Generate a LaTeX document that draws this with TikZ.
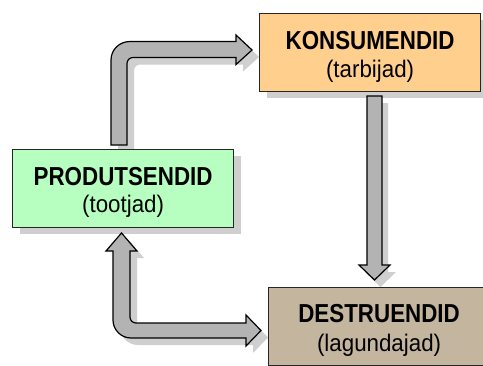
\documentclass[tikz,border=0pt]{standalone}
\usepackage{fontspec}
\usetikzlibrary{calc}
\setmainfont{Liberation Sans}
\newfontfamily\titlefont{Liberation Sans}[FakeStretch=0.86]
\newfontfamily\subfont{Liberation Sans}[FakeStretch=0.93]
\definecolor{konsfill}{HTML}{FFCF8E}
\definecolor{prodfill}{HTML}{B6FFC0}
\definecolor{destfill}{HTML}{C4B59E}
\definecolor{arrfill}{HTML}{B3B3B3}
\definecolor{shadowc}{HTML}{CFCFCF}
\definecolor{edgec}{HTML}{262626}
\newcommand\pathA{(111,145) -- (111,60) .. controls (111,49.5) and (119.5,41.5) .. (130,41.5) -- (236,41.5) -- (236,35) -- (252,50) -- (236,64.5) -- (236,57.5) -- (133,57.5) .. controls (129.7,57.5) and (127,60.2) .. (127,63.5) -- (127,145) -- cycle}
\newcommand\pathB{(367,96) -- (367,265) -- (359,265) -- (374.5,280) -- (390,265) -- (382,265) -- (382,96) -- cycle}
\newcommand\pathC{(121.5,233) -- (137,251) -- (130,251) -- (130,317) .. controls (130,320.3) and (132.7,323) .. (136,323) -- (246,323) -- (246,315) -- (261,330.5) -- (246,346) -- (246,338) -- (131,338) .. controls (121.1,338) and (113,329.9) .. (113,320) -- (113,251) -- (106,251) -- cycle}
\tikzset{
  box/.style={draw=edgec, line width=1.2pt, minimum width=221pt, minimum height=78pt, inner sep=0pt, anchor=north west},
  boxshadow/.style={fill=shadowc, draw=none, minimum width=221pt, minimum height=78pt, inner sep=0pt, anchor=north west},
  blockarrow/.style={fill=arrfill, draw=black, line width=1.2pt, line join=miter},
  arrshadow/.style={fill=shadowc, draw=none},
  title/.style={font=\titlefont\bfseries\fontsize{26}{28}\selectfont, anchor=base, inner sep=0pt},
  sub/.style={font=\subfont\fontsize{24}{28}\selectfont, anchor=base, inner sep=0pt}
}
\begin{document}
\begin{tikzpicture}[x=1pt, y=-1pt]
\clip (0,0) rectangle (483,365);
\fill[white] (0,0) rectangle (483,365);
% shadows
\node[boxshadow] (konsS) at (267,20) {};
\node[boxshadow] (prodS) at (20,156) {};
\node[boxshadow] (destS) at (276,294) {};
\fill[arrshadow, shift={(7,7)}] \pathA;
\fill[arrshadow, shift={(6,7)}] \pathB;
\fill[arrshadow, shift={(7,7)}] \pathC;
% arrows
\draw[blockarrow] \pathA;
\draw[blockarrow] \pathB;
\draw[blockarrow] \pathC;
% boxes
\node[box, fill=konsfill] (kons) at (259,13) {};
\node[box, fill=prodfill] (prod) at (12,149) {};
\node[box, fill=destfill] (dest) at (268,287) {};
% texts
\node[title] (konsT) at ($(kons.north)+(0,36)$) {KONSUMENDID};
\node[sub] (konsU) at ($(kons.north)+(0,64)$) {(tarbijad)};
\node[title] (prodT) at ($(prod.north)+(0,36)$) {PRODUTSENDID};
\node[sub] (prodU) at ($(prod.north)+(0,63)$) {(tootjad)};
\node[title] (destT) at ($(dest.north)+(0,35.5)$) {DESTRUENDID};
\node[sub] (destU) at ($(dest.north)+(0,64.5)$) {(lagundajad)};
\end{tikzpicture}
\end{document}
